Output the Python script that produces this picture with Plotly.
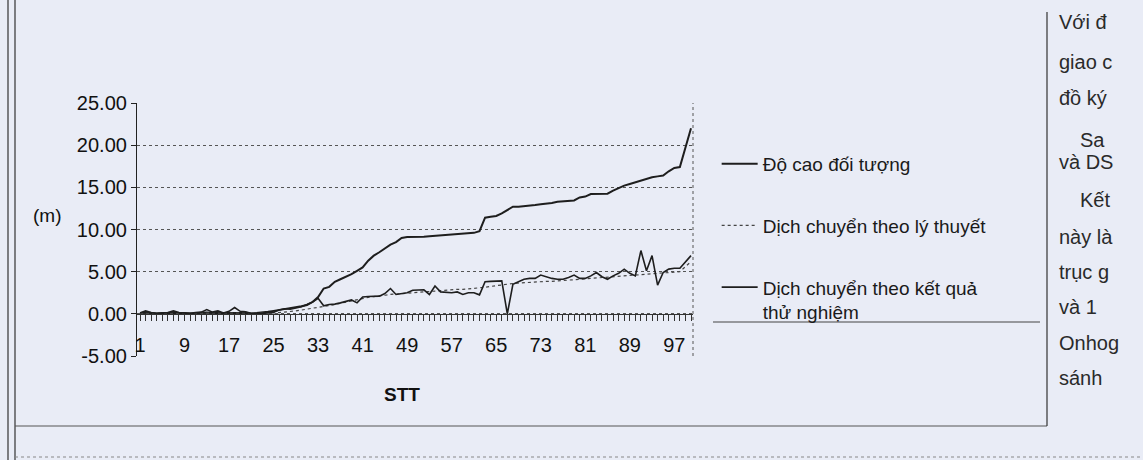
import plotly.graph_objects as go

stt = list(range(1, 101))

do_cao = [0.1, 0.15, 0.1, 0.05, 0.1, 0.1, 0.15, 0.1, 0.1, 0.05,
          0.1, 0.1, 0.15, 0.1, 0.1, 0.1, 0.15, 0.1, 0.1, 0.1,
          0.05, 0.1, 0.15, 0.25, 0.35, 0.45, 0.55, 0.65, 0.75, 0.9,
          1.05, 1.4, 2.0, 3.0, 3.2, 3.8, 4.1, 4.4, 4.7, 5.1,
          5.5, 6.3, 6.9, 7.3, 7.8, 8.2, 8.5, 9.0, 9.1, 9.1,
          9.1, 9.15, 9.2, 9.25, 9.3, 9.4, 9.4, 9.45, 9.5, 9.55,
          9.6, 9.8, 11.4, 11.5, 11.6, 11.9, 12.3, 12.7, 12.7, 12.75,
          12.8, 12.9, 13.0, 13.05, 13.15, 13.3, 13.35, 13.4, 13.45, 13.8,
          13.9, 14.2, 14.2, 14.2, 14.25, 14.6, 14.9, 15.2, 15.4, 15.6,
          15.8, 16.0, 16.2, 16.3, 16.4, 16.9, 17.3, 17.4, 19.6, 22.0]

ly_thuyet = [0.05, 0.05, 0.05, 0.05, 0.05, 0.05, 0.05, 0.05, 0.05, 0.05,
             0.05, 0.05, 0.05, 0.05, 0.05, 0.05, 0.05, 0.05, 0.05, 0.05,
             0.05, 0.05, 0.05, 0.08, 0.1, 0.15, 0.2, 0.3, 0.35, 0.45,
             0.55, 0.65, 0.75, 0.85, 0.95, 1.1, 1.25, 1.4, 1.55, 1.7,
             1.85, 1.95, 2.05, 2.1, 2.2, 2.3, 2.35, 2.45, 2.5, 2.55,
             2.6, 2.65, 2.7, 2.75, 2.8, 2.85, 2.85, 2.9, 2.9, 2.95,
             3.0, 3.05, 3.15, 3.25, 3.35, 3.45, 3.55, 3.6, 3.65, 3.7,
             3.75, 3.8, 3.8, 3.85, 3.85, 3.9, 3.9, 3.95, 4.0, 4.05,
             4.1, 4.15, 4.2, 4.25, 4.3, 4.35, 4.4, 4.45, 4.5, 4.55,
             4.6, 4.65, 4.7, 4.75, 4.8, 4.85, 4.9, 5.0, 5.6, 6.2]

thu_nghiem = [0.1, 0.35, 0.15, 0.05, 0.1, 0.15, 0.35, 0.15, 0.1, 0.05,
              0.15, 0.2, 0.5, 0.2, 0.35, 0.1, 0.3, 0.75, 0.3, 0.25,
              0.05, 0.0, 0.05, 0.1, 0.2, 0.45, 0.6, 0.55, 0.7, 0.85,
              1.1, 1.4, 1.85, 0.95, 1.1, 1.15, 1.3, 1.45, 1.65, 1.3,
              2.0, 2.05, 2.1, 2.1, 2.4, 3.0, 2.3, 2.4, 2.5, 2.8,
              2.85, 2.85, 2.3, 3.3, 2.6, 2.55, 2.5, 2.6, 2.3, 2.5,
              2.5, 2.25, 3.8, 3.85, 3.9, 3.9, 0.0, 3.5, 3.8, 4.1,
              4.2, 4.2, 4.6, 4.4, 4.2, 4.1, 4.1, 4.3, 4.6, 4.2,
              4.2, 4.5, 4.9, 4.4, 4.1, 4.5, 4.8, 5.3, 4.8, 4.5,
              7.5, 5.1, 6.9, 3.4, 4.9, 5.3, 5.4, 5.4, 6.1, 6.9]

y_ticks = [-5, 0, 5, 10, 15, 20, 25]
y_ticktext = ["-5.00", "0.00", "5.00", "10.00", "15.00", "20.00", "25.00"]
x_label_every = 8

names = ["Độ cao đối tượng", "Dịch chuyển theo lý thuyết",
         "Dịch chuyển theo kết quả<br>thử nghiệm"]

BG = "#e9ecf6"
INK = "#1e1e1e"
FONT = "Liberation Sans, Arial, sans-serif"

# plot area in pixels
L, R, T, B = 137, 693, 103, 356
W, H = 1143, 460


def px(x):
    return (x - L) / (R - L)


def py(y):
    return (B - y) / (B - T)


fig = go.Figure()
fig.add_trace(go.Scatter(x=stt, y=do_cao, mode="lines", name=names[0],
                         line=dict(color=INK, width=2), legendgroup="a"))
fig.add_trace(go.Scatter(x=stt, y=ly_thuyet, mode="lines", name=names[1],
                         line=dict(color="#444444", width=1.2, dash="dot"), legendgroup="b"))
fig.add_trace(go.Scatter(x=stt, y=thu_nghiem, mode="lines", name=names[2],
                         line=dict(color=INK, width=1.6), legendgroup="c"))

ticktext = [str(i) if (i - 1) % x_label_every == 0 else "" for i in stt]

fig.update_layout(
    width=W, height=H,
    margin=dict(l=L, r=W - R, t=T, b=H - B, pad=0),
    paper_bgcolor=BG, plot_bgcolor=BG,
    font=dict(family=FONT, size=20, color="#111111"),
    showlegend=True,
    legend=dict(xref="container", yref="container", x=0.627, y=0.685,
                xanchor="left", yanchor="top", bgcolor="rgba(0,0,0,0)",
                font=dict(size=19, color="#1a1a1a"), tracegroupgap=34,
                traceorder="grouped", valign="top", itemwidth=36),
    xaxis=dict(range=[0.46, 100.36], tickmode="array", tickvals=stt, ticktext=ticktext,
               ticks="outside", ticklen=6, tickcolor="#333", tickwidth=1,
               showline=True, linecolor="#333", linewidth=1,
               showgrid=False, zeroline=False, anchor="free", position=1 / 6,
               tickangle=0, tickfont=dict(size=20), ticklabelstandoff=7),
    yaxis=dict(range=[-5, 25], tickmode="array", tickvals=y_ticks, ticktext=y_ticktext,
               ticks="outside", ticklen=5, tickcolor="#222", showline=True,
               linecolor="#222", linewidth=1.2, showgrid=True,
               gridcolor="#555555", griddash="dot", gridwidth=1,
               zeroline=False, tickfont=dict(size=20)),
)

shapes = [
    # right plot border (dotted)
    dict(type="line", xref="paper", yref="paper", x0=1, x1=1, y0=0, y1=1,
         line=dict(color="#555", width=1, dash="dot")),
    # page frame
    dict(type="line", xref="paper", yref="paper", x0=px(8), x1=px(8), y0=py(0), y1=py(460),
         line=dict(color="#333", width=1.2)),
    dict(type="line", xref="paper", yref="paper", x0=px(15), x1=px(15), y0=py(0), y1=py(460),
         line=dict(color="#333", width=1.2)),
    dict(type="line", xref="paper", yref="paper", x0=px(15), x1=px(1047), y0=py(426), y1=py(426),
         line=dict(color="#555", width=1)),
    dict(type="line", xref="paper", yref="paper", x0=px(1047), x1=px(1047), y0=py(12), y1=py(426),
         line=dict(color="#333", width=1.2)),
    dict(type="line", xref="paper", yref="paper", x0=px(713), x1=px(1040), y0=py(322), y1=py(322),
         line=dict(color="#444", width=1)),
    dict(type="line", xref="paper", yref="paper", x0=px(15), x1=px(1143), y0=py(457), y1=py(457),
         line=dict(color="#888", width=1, dash="dot")),
]
fig.update_layout(shapes=shapes)

annotations = [
    dict(text="(m)", xref="paper", yref="paper", x=px(63), y=py(215), xanchor="right",
         yanchor="middle", showarrow=False, font=dict(size=19, color="#111")),
    dict(text="<b>STT</b>", xref="paper", yref="paper", x=px(402), y=py(394),
         xanchor="center", yanchor="middle", showarrow=False,
         font=dict(size=19, color="#111")),
]
side = [("Với đ", 1057, 22), ("giao c", 1057, 62), ("đồ ký", 1057, 98),
        ("Sa", 1078, 140), ("và DS", 1057, 162), ("Kết", 1078, 200),
        ("này là", 1057, 237), ("trục g", 1057, 272), ("và 1", 1057, 307),
        ("Onhog", 1057, 343), ("sánh", 1057, 378)]
for t, x, y in side:
    annotations.append(dict(text=t, xref="paper", yref="paper", x=px(x), y=py(y),
                            xanchor="left", yanchor="middle", showarrow=False,
                            font=dict(size=20, color="#2a2a2a")))
fig.update_layout(annotations=annotations)

fig.write_html("out.html", config={"displayModeBar": False},
               post_script="document.body.style.margin='0';document.body.style.overflow='hidden';")
